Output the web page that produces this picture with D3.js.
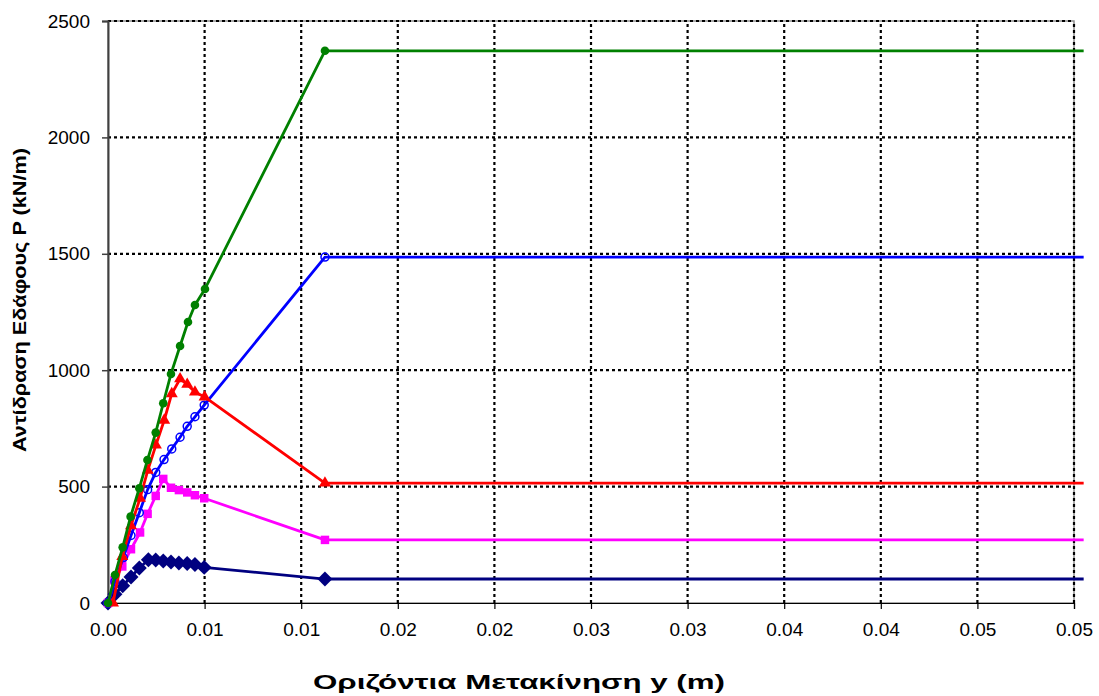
<!DOCTYPE html>
<html>
<head>
<meta charset="utf-8">
<script src="https://cdn.jsdelivr.net/npm/d3@7"></script>
<style>
  html, body { margin: 0; padding: 0; background: #fff; }
  svg { display: block; }
  text { font-family: "Liberation Sans", Arial, sans-serif; fill: #000; }
</style>
</head>
<body>
<svg id="chart" width="1099" height="696"></svg>
<script>
// ---- data ----
const xTickValues = [0, 0.005, 0.01, 0.015, 0.02, 0.025, 0.03, 0.035, 0.04, 0.045, 0.05];
const xTickLabels = ["0.00", "0.01", "0.01", "0.02", "0.02", "0.03", "0.03", "0.04", "0.04", "0.05", "0.05"];
const yTickValues = [0, 500, 1000, 1500, 2000, 2500];
const yTickLabels = ["0", "500", "1000", "1500", "2000", "2500"];

const greenX = [0, 0.00036, 0.00076, 0.00117, 0.00162, 0.00204, 0.00247, 0.00286, 0.00326, 0.00373, 0.00414, 0.0045, 0.00502, 0.01123, 0.0505];
const greenP = [0, 120, 239, 371, 493, 614, 732, 858, 984, 1104, 1207, 1280, 1349, 2372, 2372];

const blueX = [0, 0.00036, 0.00079, 0.00119, 0.00162, 0.00205, 0.00247, 0.0029, 0.0033, 0.00373, 0.0041, 0.0045, 0.00498, 0.01123, 0.0505];
const blueP = [0, 92, 195, 290, 388, 487, 561, 616, 662, 712, 759, 800, 850, 1486, 1486];

const redX = [0.00026, 0.00074, 0.00119, 0.00166, 0.00206, 0.00248, 0.00291, 0.0033, 0.00373, 0.0041, 0.0045, 0.005, 0.01123, 0.0505];
const redP = [0, 200, 332, 450, 570, 678, 785, 899, 963, 939, 906, 885, 515, 515];

const pinkX = [0, 0.00033, 0.00074, 0.00119, 0.00166, 0.00205, 0.00247, 0.00286, 0.00326, 0.00367, 0.0041, 0.0045, 0.00498, 0.01123, 0.0505];
const pinkP = [0, 97, 157, 231, 303, 383, 460, 533, 495, 485, 475, 463, 450, 271, 271];

const navyX = [0, 0.00036, 0.00076, 0.00119, 0.00162, 0.00209, 0.00247, 0.00286, 0.00326, 0.00367, 0.0041, 0.0045, 0.00498, 0.01123, 0.0505];
const navyP = [0, 38, 74, 112, 150, 186, 185, 180, 176, 172, 170, 165, 153, 103, 103];

const xTitle = "Οριζόντια Μετακίνηση y (m)";
const yTitle = "Αντίδραση Εδάφους P (kN/m)";

// ---- layout ----
const svg = d3.select("#chart");
const pLeft = 108, pRight = 1074, pTop = 21, pBottom = 603;

const x = d3.scaleLinear().domain([0, 0.05]).range([pLeft, pRight]);
const y = d3.scaleLinear().domain([0, 2500]).range([pBottom, pTop]);

// plot-area border (grey)
svg.append("rect")
  .attr("x", pLeft).attr("y", pTop)
  .attr("width", pRight - pLeft).attr("height", pBottom - pTop)
  .attr("fill", "none").attr("stroke", "#8c8c8c").attr("stroke-width", 1.5);

// grid lines
const grid = svg.append("g");
grid.selectAll(".vg").data(xTickValues.slice(1)).join("line")
  .attr("x1", d => x(d)).attr("x2", d => x(d))
  .attr("y1", pBottom).attr("y2", pTop)
  .attr("stroke", "#000").attr("stroke-width", 2.2).attr("stroke-dasharray", "3,3");
grid.selectAll(".hg").data(yTickValues.slice(1)).join("line")
  .attr("x1", pLeft).attr("x2", pRight)
  .attr("y1", d => y(d)).attr("y2", d => y(d))
  .attr("stroke", "#000").attr("stroke-width", 2.2).attr("stroke-dasharray", "3,3");

// axes
const xAxis = d3.axisBottom(x).tickValues(xTickValues)
  .tickFormat((d, i) => xTickLabels[i]).tickSize(6).tickPadding(14);
const gx = svg.append("g").attr("transform", `translate(0,${pBottom})`).call(xAxis);
gx.select(".domain").attr("stroke", "#000").attr("stroke-width", 1.2);
gx.selectAll(".tick line").attr("stroke", "#000").attr("stroke-width", 1.2);
gx.selectAll(".tick text").attr("font-size", 19).attr("font-family", "Liberation Sans, Arial, sans-serif");

const yAxis = d3.axisLeft(y).tickValues(yTickValues)
  .tickFormat((d, i) => yTickLabels[i]).tickSize(6).tickPadding(12);
const gy = svg.append("g").attr("transform", `translate(${pLeft},0)`).call(yAxis);
gy.select(".domain").attr("stroke", "#404040").attr("stroke-width", 2);
gy.selectAll(".tick line").attr("stroke", "#404040").attr("stroke-width", 1.5);
gy.selectAll(".tick text").attr("font-size", 19).attr("font-family", "Liberation Sans, Arial, sans-serif");

// series
const series = [
  { xs: navyX, ps: navyP, color: "#000080", marker: "diamond" },
  { xs: pinkX, ps: pinkP, color: "#ff00ff", marker: "square" },
  { xs: blueX, ps: blueP, color: "#0000ff", marker: "open" },
  { xs: redX, ps: redP, color: "#ff0000", marker: "triangle" },
  { xs: greenX, ps: greenP, color: "#008000", marker: "circle" }
];

const line = d3.line().x(d => x(d[0])).y(d => y(d[1]));
const symbolOf = {
  diamond: d3.symbol().type(d3.symbolSquare).size(112),
  square: d3.symbol().type(d3.symbolSquare).size(72),
  triangle: d3.symbol().type(d3.symbolTriangle).size(62),
  circle: d3.symbol().type(d3.symbolCircle).size(58),
  open: d3.symbol().type(d3.symbolCircle).size(50)
};

series.forEach(s => {
  const pts = s.xs.map((v, i) => [v, s.ps[i]]);
  const g = svg.append("g");
  g.append("path").datum(pts).attr("d", line)
    .attr("fill", "none").attr("stroke", s.color).attr("stroke-width", 2.8)
    .attr("stroke-linejoin", "round");
  const mpts = pts.slice(0, pts.length - 1);
  g.selectAll("path.m").data(mpts).join("path").attr("class", "m")
    .attr("transform", d => `translate(${x(d[0])},${y(d[1])})` + (s.marker === "diamond" ? " rotate(45)" : ""))
    .attr("d", symbolOf[s.marker]())
    .attr("fill", s.marker === "open" ? "none" : s.color)
    .attr("stroke", s.marker === "open" ? s.color : "none")
    .attr("stroke-width", 1.5);
});

// axis titles
svg.append("text")
  .attr("x", 519).attr("y", 689)
  .attr("text-anchor", "middle").attr("font-weight", "bold").attr("font-size", 20)
  .attr("textLength", 412).attr("lengthAdjust", "spacingAndGlyphs")
  .text(xTitle);
svg.append("text")
  .attr("transform", `translate(26,300) rotate(-90)`)
  .attr("text-anchor", "middle").attr("font-weight", "bold").attr("font-size", 18)
  .attr("textLength", 304).attr("lengthAdjust", "spacingAndGlyphs")
  .text(yTitle);
</script>
</body>
</html>
